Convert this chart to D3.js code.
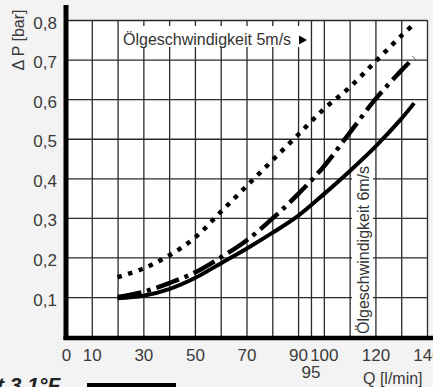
<!DOCTYPE html>
<html>
<head>
<meta charset="utf-8">
<script src="https://cdn.jsdelivr.net/npm/d3@7"></script>
<style>
  body { margin: 0; background: #f3f3f3; }
  svg { display: block; font-family: 'Liberation Sans', Arial, sans-serif; }
</style>
</head>
<body>
<div id="chart"></div>
<script>
// Data
var flow = [20, 30, 40, 50, 60, 70, 80, 90, 100, 110, 120, 130, 135]
var solidValues = [0.097, 0.103, 0.12, 0.148, 0.185, 0.222, 0.262, 0.305, 0.36, 0.418, 0.48, 0.55, 0.59]
var dashDotValues = [0.1, 0.113, 0.135, 0.162, 0.2, 0.243, 0.298, 0.36, 0.43, 0.515, 0.6, 0.672, 0.705]
var dottedValues = [0.15, 0.172, 0.205, 0.25, 0.315, 0.38, 0.445, 0.51, 0.575, 0.63, 0.695, 0.76, 0.79]

var xTickLabels = [0, 10, 30, 50, 70, 90, 100, 120, 140]
var xGridValues = [10, 20, 30, 40, 50, 60, 70, 80, 90, 95, 100, 110, 120, 130, 140]
var yTickValues = [0.1, 0.2, 0.3, 0.4, 0.5, 0.6, 0.7, 0.8]

var width = 433
var height = 387

var svg = d3.select('#chart')
  .append('svg')
  .attr('width', width)
  .attr('height', height)

// Scales
var xPositionScale = d3.scaleLinear().domain([0, 140]).range([66, 427])
var yPositionScale = d3.scaleLinear().domain([0, 0.8]).range([336.6, 20])

// white plot area
svg.append('rect')
  .attr('x', xPositionScale(0))
  .attr('y', yPositionScale(0.8))
  .attr('width', xPositionScale(140) - xPositionScale(0))
  .attr('height', yPositionScale(0) - yPositionScale(0.8))
  .attr('fill', '#fff')

// Grid lines (vertical)
svg.append('g')
  .attr('transform', 'translate(0,' + yPositionScale(0) + ')')
  .call(d3.axisBottom(xPositionScale)
    .tickValues(xGridValues)
    .tickSize(-(yPositionScale(0) - yPositionScale(0.8)))
    .tickFormat(''))
  .call(g => g.select('.domain').remove())
  .selectAll('line')
  .attr('stroke', '#2a2a2a')
  .attr('stroke-width', 1.3)

// Grid lines (horizontal)
svg.append('g')
  .attr('transform', 'translate(' + xPositionScale(0) + ',0)')
  .call(d3.axisRight(yPositionScale)
    .tickValues(yTickValues)
    .tickSize(xPositionScale(140) - xPositionScale(0))
    .tickFormat(''))
  .call(g => g.select('.domain').remove())
  .selectAll('line')
  .attr('stroke', '#2a2a2a')
  .attr('stroke-width', 1.3)

// White boxes behind the two labels
svg.append('rect')
  .attr('x', 120).attr('y', 26)
  .attr('width', 181).attr('height', 21)
  .attr('fill', '#fff')

svg.append('rect')
  .attr('x', 352).attr('y', 156)
  .attr('width', 21).attr('height', 180)
  .attr('fill', '#fff')

// Curves
var curveLine = function(values) {
  return d3.line()
    .x((d, i) => xPositionScale(flow[i]))
    .y(d => yPositionScale(d))
    .curve(d3.curveCatmullRom)(values)
}

svg.append('path')
  .attr('d', curveLine(solidValues))
  .attr('fill', 'none')
  .attr('stroke', '#000')
  .attr('stroke-width', 4)

svg.append('path')
  .attr('d', curveLine(dashDotValues))
  .attr('fill', 'none')
  .attr('stroke', '#000')
  .attr('stroke-width', 4.5)
  .attr('stroke-dasharray', '24,6,4,6')

svg.append('path')
  .attr('d', curveLine(dottedValues))
  .attr('fill', 'none')
  .attr('stroke', '#000')
  .attr('stroke-width', 4.5)
  .attr('stroke-dasharray', '4.5,6.5')

// Heavy axis lines
svg.append('line')
  .attr('x1', 66).attr('x2', 66)
  .attr('y1', 5).attr('y2', 340)
  .attr('stroke', '#000')
  .attr('stroke-width', 5)

svg.append('line')
  .attr('x1', 63.5).attr('x2', width)
  .attr('y1', 338).attr('y2', 338)
  .attr('stroke', '#000')
  .attr('stroke-width', 4.5)

// Y tick labels
var yAxis = d3.axisLeft(yPositionScale)
  .tickValues(yTickValues)
  .tickSize(0)
  .tickFormat(d => d.toFixed(1).replace('.', ','))

svg.append('g')
  .attr('class', 'axis y-axis')
  .attr('transform', 'translate(57,0)')
  .call(yAxis)
  .call(g => g.select('.domain').remove())
  .selectAll('text')
  .attr('x', 0)
  .attr('dy', '0.47em')
  .attr('font-size', 17)
  .attr('font-family', 'Liberation Sans, Arial, sans-serif')
  .attr('fill', '#3a3a3a')

// X tick labels
var xAxis = d3.axisBottom(xPositionScale)
  .tickValues(xTickLabels)
  .tickSize(0)
  .tickFormat(d3.format('d'))

svg.append('g')
  .attr('class', 'axis x-axis')
  .attr('transform', 'translate(0,361)')
  .call(xAxis)
  .call(g => g.select('.domain').remove())
  .selectAll('text')
  .attr('y', 0)
  .attr('dy', 0)
  .attr('font-size', 17)
  .attr('font-family', 'Liberation Sans, Arial, sans-serif')
  .attr('fill', '#3a3a3a')

svg.append('text')
  .text('95')
  .attr('x', xPositionScale(95))
  .attr('y', 378)
  .attr('text-anchor', 'middle')
  .attr('font-size', 17)
  .attr('fill', '#3a3a3a')

svg.append('text')
  .text('Q [l/min]')
  .attr('x', 363)
  .attr('y', 384)
  .attr('font-size', 16)
  .attr('fill', '#3a3a3a')

// Y axis title
svg.append('text')
  .text('Δ P [bar]')
  .attr('transform', 'translate(24,40) rotate(-90)')
  .attr('text-anchor', 'middle')
  .attr('font-size', 16)
  .attr('fill', '#3a3a3a')

// Curve labels
svg.append('text')
  .text('Ölgeschwindigkeit 5m/s')
  .attr('x', 123)
  .attr('y', 45)
  .attr('font-size', 16)
  .attr('fill', '#333')

svg.append('path')
  .attr('d', 'M299,35.5 L307,40 L299,44.5 Z')
  .attr('fill', '#000')

svg.append('text')
  .text('Ölgeschwindigkeit 6m/s')
  .attr('transform', 'translate(369,334) rotate(-90)')
  .attr('font-size', 16)
  .attr('fill', '#333')

// Cut-off caption at the bottom
svg.append('text')
  .text('t 3.1°F')
  .attr('x', -3)
  .attr('y', 392)
  .attr('font-size', 21)
  .attr('font-style', 'italic')
  .attr('font-weight', 'bold')
  .attr('fill', '#222')

svg.append('rect')
  .attr('x', 87).attr('y', 383)
  .attr('width', 89).attr('height', 6)
  .attr('fill', '#000')
</script>
</body>
</html>
